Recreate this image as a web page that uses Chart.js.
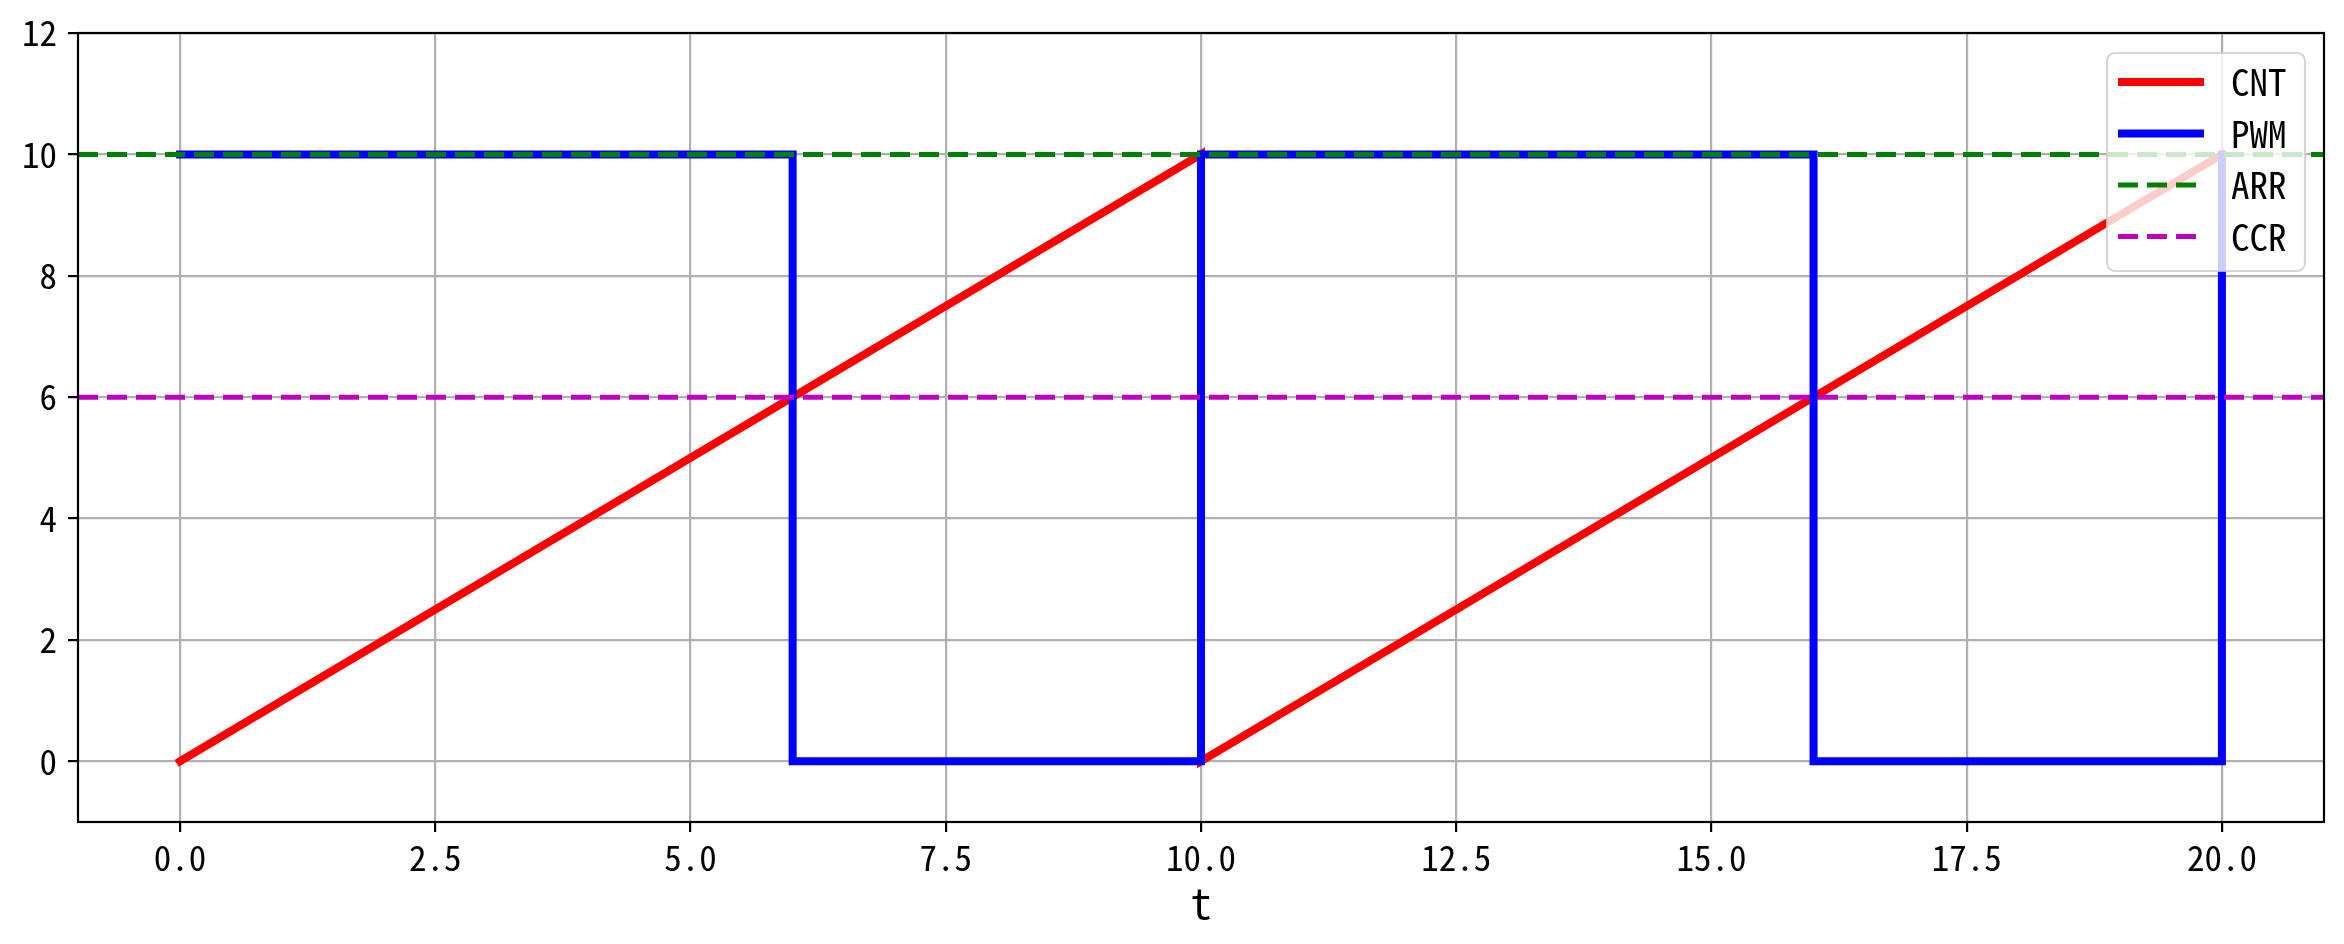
<!DOCTYPE html>
<html>
<head>
<meta charset="utf-8">
<script src="https://cdn.jsdelivr.net/npm/chart.js@4"></script>
<style>
  html, body { margin: 0; padding: 0; background: #fff; }
  #wrap { width: 2344px; height: 944px; }
</style>
</head>
<body>
<div id="wrap"><canvas id="chartPwm"></canvas></div>
<script>
const cntT = [0, 10, 10, 20];
const cntV = [0, 10, 0, 10];
const pwmT = [0, 6, 6, 10, 10, 16, 16, 20, 20];
const pwmV = [10, 10, 0, 0, 10, 10, 0, 0, 10];
const arrLevel = 10;
const ccrLevel = 6;
const xLimits = [-1, 21];
const yLimits = [-1, 12];
const xTicks = [0, 2.5, 5, 7.5, 10, 12.5, 15, 17.5, 20];
const yTicks = [0, 2, 4, 6, 8, 10, 12];

const FONT = '"Noto Sans Mono CJK SC", "Noto Sans CJK SC", "DejaVu Sans Condensed", sans-serif';

const pts = (xs, ys) => xs.map((x, i) => ({ x: x, y: ys[i] }));
const flat = (v) => xLimits.map(x => ({ x: x, y: v }));

const series = [
  { label: 'CNT', data: pts(cntT, cntV), color: 'rgb(255, 0, 0)', width: 8, dash: [], order: 4 },
  { label: 'PWM', data: pts(pwmT, pwmV), color: 'rgb(0, 0, 255)', width: 8, dash: [], order: 3 },
  { label: 'ARR', data: flat(arrLevel), color: 'rgb(0, 128, 0)', width: 5, dash: [20, 9], order: 2 },
  { label: 'CCR', data: flat(ccrLevel), color: 'rgb(191, 0, 191)', width: 5, dash: [20, 9], order: 1 }
];

// frame round the plot area, like matplotlib spines
const frame = {
  id: 'frame',
  afterDatasetsDraw(chart) {
    const a = chart.chartArea, c = chart.ctx;
    c.save();
    c.strokeStyle = '#000';
    c.lineWidth = 2.2;
    c.strokeRect(a.left, a.top, a.right - a.left, a.bottom - a.top);
    c.restore();
  }
};

// legend drawn inside the axes, upper right
const boxLegend = {
  id: 'boxLegend',
  afterDatasetsDraw(chart) {
    const c = chart.ctx;
    const x0 = 2107, y0 = 53, w = 198, h = 218, r = 8;
    c.save();
    c.beginPath();
    c.roundRect(x0, y0, w, h, r);
    c.fillStyle = 'rgba(255,255,255,0.8)';
    c.fill();
    c.strokeStyle = 'rgba(204,204,204,0.8)';
    c.lineWidth = 2.2;
    c.stroke();
    c.font = '37px ' + FONT;
    c.textBaseline = 'middle';
    c.textAlign = 'left';
    series.forEach((s, i) => {
      const y = 82 + i * 51.5;
      c.beginPath();
      c.strokeStyle = s.color;
      c.lineWidth = s.width;
      c.setLineDash(s.dash);
      c.lineCap = 'butt';
      c.moveTo(2118, y);
      c.lineTo(2204, y);
      c.stroke();
      c.setLineDash([]);
      c.fillStyle = '#000';
      c.fillText(s.label, 2231, y);
    });
    c.restore();
  }
};

new Chart(document.getElementById('chartPwm'), {
  type: 'line',
  data: {
    datasets: series.map(s => ({
      label: s.label,
      data: s.data,
      borderColor: s.color,
      backgroundColor: s.color,
      borderWidth: s.width,
      borderDash: s.dash,
      borderJoinStyle: 'miter',
      borderCapStyle: s.dash.length ? 'butt' : 'square',
      pointRadius: 0,
      tension: 0,
      fill: false,
      order: s.order
    }))
  },
  options: {
    responsive: true,
    maintainAspectRatio: false,
    animation: false,
    events: [],
    layout: { padding: { left: 0, right: 20, top: 33, bottom: 0 } },
    plugins: { legend: { display: false }, tooltip: { enabled: false } },
    scales: {
      x: {
        type: 'linear',
        min: xLimits[0],
        max: xLimits[1],
        afterBuildTicks: (sc) => { sc.ticks = xTicks.map(v => ({ value: v })); },
        afterFit: (sc) => { sc.height = 122; },
        ticks: {
          color: '#000',
          font: { family: FONT, size: 35 },
          padding: 5,
          maxRotation: 0,
          autoSkip: false,
          callback: (v) => v.toFixed(1)
        },
        grid: { color: '#b0b0b0', lineWidth: 2.2, tickLength: 10, tickColor: '#000', tickWidth: 2.2 },
        border: { display: false },
        title: { display: true, text: 't', color: '#000', font: { family: FONT, size: 42 }, padding: { top: 0, bottom: 16 } }
      },
      y: {
        type: 'linear',
        min: yLimits[0],
        max: yLimits[1],
        afterBuildTicks: (sc) => { sc.ticks = yTicks.map(v => ({ value: v })); },
        afterFit: (sc) => { sc.width = 78; },
        ticks: {
          color: '#000',
          font: { family: FONT, size: 35 },
          padding: 11,
          autoSkip: false,
          callback: (v) => String(v)
        },
        grid: { color: '#b0b0b0', lineWidth: 2.2, tickLength: 10, tickColor: '#000', tickWidth: 2.2 },
        border: { display: false }
      }
    }
  },
  plugins: [frame, boxLegend]
});
</script>
</body>
</html>
